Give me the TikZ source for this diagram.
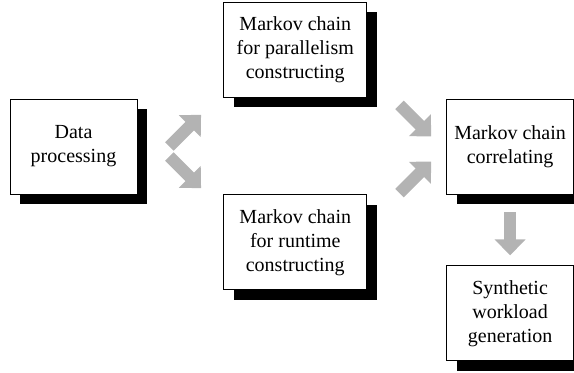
\documentclass[tikz,border=0pt]{standalone}
\usepackage{fontspec}
\setmainfont{Liberation Serif}
\usetikzlibrary{arrows.meta,positioning,shadows,calc}
\definecolor{arrowgray}{HTML}{B3B3B3}

\begin{document}
\begin{tikzpicture}[
      bx/.style={rectangle,draw,fill=white,minimum width=63.5pt,minimum height=47.5pt,
                 align=center,inner sep=2pt,
                 drop shadow={shadow xshift=5pt,shadow yshift=-5pt,fill=black,opacity=1}},
      wide/.style={bx,minimum width=71.5pt},
      blk/.style={draw=arrowgray,line width=6pt,-{Triangle[length=8pt,width=15pt]}}]
  \useasboundingbox (0,0) rectangle (287pt,-186.5pt);
  \node[bx]   (d)   at (36.75pt,-73.25pt) {Data\\processing};
  \node[wide] (par) [above right=0.5pt and 43pt of d.north east] {Markov chain\\for parallelism\\constructing};
  \node[wide] (run) [below right=0pt and 43pt of d.south east] {Markov chain\\for runtime\\constructing};
  \node[bx]   (cor) [below right=0.5pt and 39.5pt of par.south east] {Markov chain\\correlating};
  \node[bx]   (syn) [below=35.5pt of cor] {Synthetic\\workload\\generation};
  % block arrows
  \draw[blk] ([xshift=16pt]d.east) -- ++(45:22.4pt);
  \draw[blk] ([xshift=16pt,yshift=-5pt]d.east) -- ++(-45:22.4pt);
  \draw[blk] ($([xshift=-7.5pt,yshift=5pt]cor.west)+(135:22.4pt)$) -- ([xshift=-7.5pt,yshift=5pt]cor.west);
  \draw[blk] ($([xshift=-7.5pt,yshift=-7.5pt]cor.west)+(-135:22.4pt)$) -- ([xshift=-7.5pt,yshift=-7.5pt]cor.west);
  \draw[blk] ([yshift=-9pt]cor.south) -- ([yshift=5pt]syn.north);
\end{tikzpicture}
\end{document}
